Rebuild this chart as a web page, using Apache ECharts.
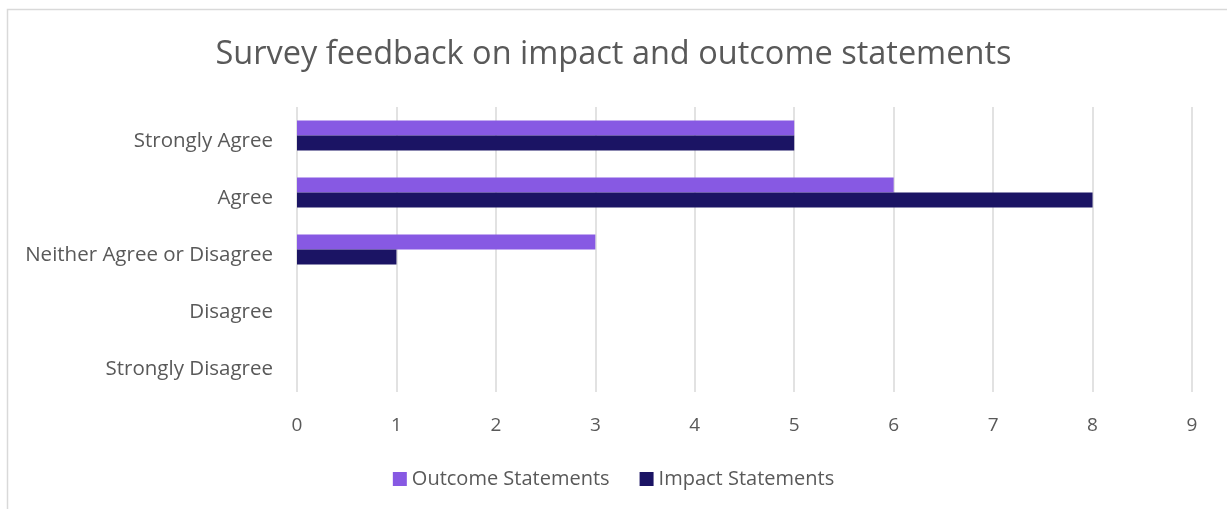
<!DOCTYPE html>
<html>
<head>
    <meta charset="utf-8">
    <title>Survey feedback</title>
    <script src="https://cdn.jsdelivr.net/npm/echarts@6/dist/echarts.min.js"></script>
</head>
<body style="margin:0;background:#fff">
    <div id="main" style="width:1227px;height:509px"></div>
<script>
    var categories = ['Strongly Agree', 'Agree', 'Neither Agree or Disagree', 'Disagree', 'Strongly Disagree'];
    var outcomeValues = [5, 6, 3, 0, 0];
    var impactValues = [5, 8, 1, 0, 0];
    var seriesNames = ['Outcome Statements', 'Impact Statements'];

    var chart = echarts.init(document.getElementById('main'));
    var font = '"Open Sans", "Noto Sans", sans-serif';

    var option = {
        backgroundColor: '#fff',
        textStyle: { fontFamily: font, color: '#595959' },
        graphic: [{
            type: 'rect',
            shape: { x: 7.5, y: 9.5, width: 1300, height: 600 },
            style: { fill: null, stroke: '#d9d9d9', lineWidth: 1.5 },
            silent: true
        }],
        title: {
            text: 'Survey feedback on impact and outcome statements',
            left: 'center',
            top: 33,
            textStyle: { fontFamily: font, fontSize: 32.5, fontWeight: 'normal', color: '#595959' }
        },
        legend: {
            data: seriesNames,
            top: 464,
            left: 'center',
            itemWidth: 14,
            itemHeight: 14,
            itemGap: 30,
            icon: 'rect',
            textStyle: { fontFamily: font, fontSize: 20, color: '#595959' }
        },
        grid: { left: 297, right: 35, top: 107, bottom: 117, containLabel: false },
        xAxis: {
            type: 'value',
            min: 0,
            max: 9,
            interval: 1,
            axisLine: { show: false },
            axisTick: { show: false },
            axisLabel: { fontSize: 19, color: '#595959', margin: 24 },
            splitLine: { lineStyle: { color: '#d9d9d9', width: 1.5 } }
        },
        yAxis: {
            type: 'category',
            data: categories,
            inverse: true,
            axisLine: { show: false },
            axisTick: { show: false },
            axisLabel: { fontSize: 20.5, color: '#595959', margin: 24, verticalAlign: 'top', lineHeight: 11 }
        },
        series: [{
            name: seriesNames[0],
            type: 'bar',
            data: outcomeValues,
            barGap: 0,
            barCategoryGap: '47%',
            itemStyle: { color: '#8759E3' }
        }, {
            name: seriesNames[1],
            type: 'bar',
            data: impactValues,
            barGap: 0,
            barCategoryGap: '47%',
            itemStyle: { color: '#1B1464' }
        }]
    };
    chart.setOption(option);
</script>
</body>
</html>
